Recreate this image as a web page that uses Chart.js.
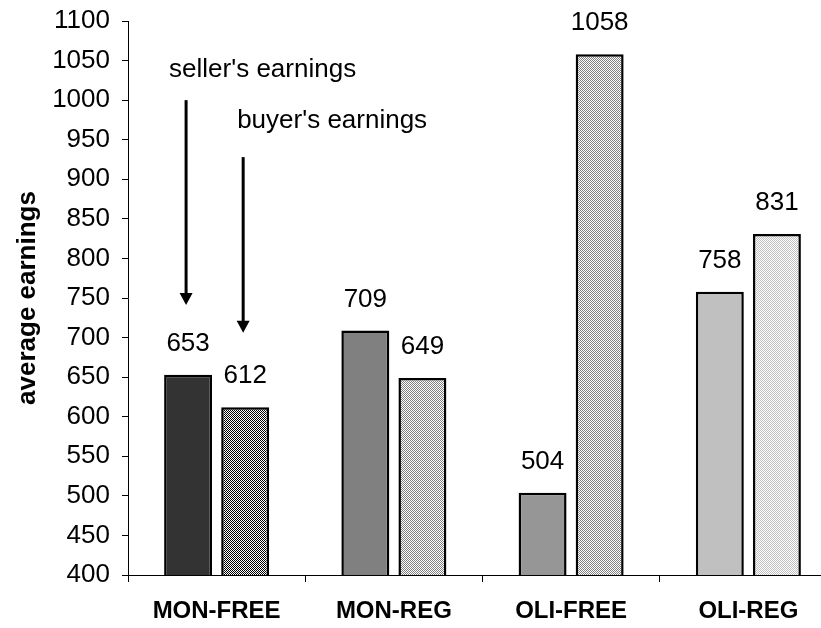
<!DOCTYPE html>
<html lang="en">
<head>
    <meta charset="UTF-8">
    <title>Average earnings</title>
    <style>
        html, body {
            margin: 0;
            padding: 0;
            background: #fff;
            overflow: hidden;
        }
        #wrap {
            position: relative;
            width: 837px;
            height: 628px;
        }
    </style>
</head>
<body>
    <div id="wrap"><canvas id="chart"></canvas></div>

    <script src="https://cdn.jsdelivr.net/npm/chart.js"></script>
    <script>
// data
const treatments = ['MON-FREE', 'MON-REG', 'OLI-FREE', 'OLI-REG'];
const sellerEarnings = [653, 709, 504, 758];
const buyerEarnings = [612, 649, 1058, 831];
const yTicks = [400, 1100, 50]; // min, max, step

const FONT = '"Liberation Sans", Arial, sans-serif';
const sellerColors = ['#333333', '#808080', '#969696', '#c0c0c0'];
const buyerDots = ['#000000', '#808080', '#808080', '#c0c0c0'];

function checker(color) {
    const c = document.createElement('canvas');
    c.width = 2; c.height = 2;
    const g = c.getContext('2d');
    g.fillStyle = '#ffffff';
    g.fillRect(0, 0, 2, 2);
    g.fillStyle = color;
    g.fillRect(0, 0, 1, 1);
    g.fillRect(1, 1, 1, 1);
    return g.createPattern(c, 'repeat');
}

// value labels above bars
const valueLabels = {
    id: 'valueLabels',
    afterDatasetsDraw(chart) {
        const ctx = chart.ctx;
        ctx.save();
        ctx.font = '26px ' + FONT;
        ctx.fillStyle = '#000';
        ctx.textAlign = 'center';
        ctx.textBaseline = 'middle';
        chart.data.datasets.forEach((ds, i) => {
            chart.getDatasetMeta(i).data.forEach((bar, j) => {
                ctx.fillText(String(ds.data[j]), bar.x, bar.y - 31);
            });
        });
        ctx.restore();
    }
};

// the two annotated arrows
function arrow(ctx, x, y1, y2) {
    ctx.beginPath();
    ctx.moveTo(x, y1);
    ctx.lineTo(x, y2 - 10);
    ctx.stroke();
    ctx.beginPath();
    ctx.moveTo(x - 6.5, y2 - 12);
    ctx.lineTo(x + 6.5, y2 - 12);
    ctx.lineTo(x, y2);
    ctx.closePath();
    ctx.fill();
}

const notes = {
    id: 'notes',
    afterDraw(chart) {
        const ctx = chart.ctx;
        const y = chart.scales.y;
        const s = chart.getDatasetMeta(0).data[0];
        const b = chart.getDatasetMeta(1).data[0];
        ctx.save();
        ctx.fillStyle = '#000';
        ctx.strokeStyle = '#000';
        ctx.lineWidth = 3;
        ctx.font = '26px ' + FONT;
        ctx.textAlign = 'left';
        ctx.textBaseline = 'alphabetic';
        ctx.fillText("seller's earnings", s.x - 19, y.getPixelForValue(1029));
        ctx.fillText("buyer's earnings", b.x - 8, y.getPixelForValue(965));
        arrow(ctx, s.x - 2, y.getPixelForValue(1000), y.getPixelForValue(741));
        arrow(ctx, b.x - 2, y.getPixelForValue(928), y.getPixelForValue(706));
        ctx.restore();
    }
};

const ctx = document.getElementById('chart').getContext('2d');
new Chart(ctx, {
    type: 'bar',
    data: {
        labels: treatments,
        datasets: [{
            label: "seller's earnings",
            data: sellerEarnings,
            backgroundColor: sellerColors,
            borderColor: '#000',
            borderWidth: 2.5,
            borderSkipped: false
        }, {
            label: "buyer's earnings",
            data: buyerEarnings,
            backgroundColor: buyerDots.map(checker),
            borderColor: '#000',
            borderWidth: 2.5,
            borderSkipped: false
        }]
    },
    options: {
        responsive: true,
        maintainAspectRatio: false,
        animation: false,
        categoryPercentage: 0.644,
        barPercentage: 0.84,
        layout: { padding: { top: 21, left: 0, right: 0, bottom: 0 } },
        plugins: {
            legend: { display: false },
            tooltip: { enabled: false }
        },
        scales: {
            x: {
                grid: {
                    offset: true,
                    drawOnChartArea: false,
                    tickLength: 7,
                    color: '#000'
                },
                border: { color: '#000', width: 1 },
                ticks: {
                    color: '#000',
                    padding: 15,
                    font: { family: FONT, size: 24, weight: 'bold' }
                },
                afterFit(scale) { scale.height = 53; }
            },
            y: {
                min: yTicks[0],
                max: yTicks[1],
                ticks: {
                    stepSize: yTicks[2],
                    color: '#000',
                    padding: 12,
                    font: { family: FONT, size: 26 },
                    callback: v => String(v)
                },
                grid: {
                    drawOnChartArea: false,
                    tickLength: 6,
                    color: '#000'
                },
                border: { color: '#000', width: 1 },
                title: {
                    display: true,
                    text: 'average earnings',
                    color: '#000',
                    padding: { top: 12, bottom: 0 },
                    font: { family: FONT, size: 26, weight: 'bold' }
                },
                afterFit(scale) {
                    scale.width = 128;
                    scale.paddingTop = 0;
                    scale.paddingBottom = 0;
                }
            }
        }
    },
    plugins: [valueLabels, notes]
});
    </script>
</body>
</html>
